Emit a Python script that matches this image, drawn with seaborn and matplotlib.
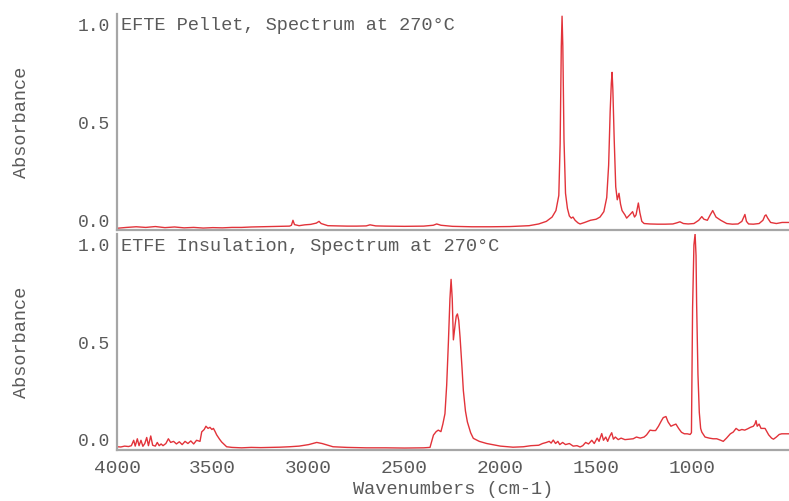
import numpy as np
import pandas as pd
import matplotlib
matplotlib.use("Agg")
import matplotlib.pyplot as plt
import matplotlib.transforms as mtransforms
from matplotlib.ticker import MultipleLocator
import seaborn as sns

# Espectro superior: pellet de EFTE (numero de onda, absorbancia)
pellet_wn = [4000, 3950, 3900, 3850, 3800, 3750, 3700, 3650, 3600, 3550, 3500, 3450,
             3400, 3350, 3300, 3250, 3200, 3150, 3100, 3090, 3082, 3074, 3050, 3020,
             2990, 2960, 2946, 2935, 2900, 2850, 2800, 2750, 2700, 2680, 2650, 2600,
             2500, 2400, 2350, 2332, 2310, 2250, 2150, 2050, 1950, 1850, 1800, 1760,
             1730, 1710, 1695, 1688, 1682, 1678, 1674, 1668, 1660, 1650, 1640, 1630,
             1621, 1610, 1595, 1584, 1560, 1530, 1500, 1480, 1460, 1445, 1435, 1427,
             1421, 1417, 1413, 1406, 1398, 1390, 1381, 1373, 1365, 1350, 1341, 1325,
             1310, 1300, 1292, 1280, 1272, 1262, 1250, 1220, 1180, 1140, 1100, 1080,
             1063, 1045, 1020, 990, 965, 949, 938, 920, 905, 892, 875, 850,
             819, 790, 760, 740, 730, 724, 716, 705, 680, 650, 630, 620,
             614, 605, 590, 560, 530, 494]
pellet_abs = [0.008, 0.012, 0.015, 0.012, 0.016, 0.011, 0.014, 0.010, 0.012, 0.009, 0.011, 0.010,
              0.012, 0.012, 0.014, 0.015, 0.016, 0.017, 0.018, 0.022, 0.045, 0.025, 0.020, 0.024,
              0.026, 0.032, 0.040, 0.030, 0.020, 0.019, 0.018, 0.018, 0.019, 0.024, 0.019, 0.018,
              0.017, 0.018, 0.022, 0.028, 0.022, 0.017, 0.015, 0.015, 0.016, 0.020, 0.028, 0.040,
              0.060, 0.090, 0.160, 0.400, 0.850, 0.990, 0.850, 0.420, 0.170, 0.100, 0.065, 0.055,
              0.060, 0.045, 0.033, 0.028, 0.035, 0.045, 0.050, 0.060, 0.085, 0.150, 0.300, 0.550,
              0.680, 0.730, 0.650, 0.420, 0.200, 0.140, 0.170, 0.120, 0.090, 0.070, 0.055, 0.070,
              0.085, 0.060, 0.070, 0.125, 0.080, 0.040, 0.030, 0.028, 0.027, 0.027, 0.028, 0.033,
              0.038, 0.030, 0.028, 0.030, 0.045, 0.062, 0.050, 0.045, 0.070, 0.090, 0.060, 0.045,
              0.030, 0.027, 0.028, 0.040, 0.060, 0.072, 0.040, 0.028, 0.027, 0.030, 0.045, 0.066,
              0.070, 0.055, 0.035, 0.030, 0.035, 0.035]

# Espectro inferior: aislamiento de ETFE
insul_wn = [4000, 3980, 3960, 3940, 3925, 3913, 3905, 3894, 3885, 3875, 3865, 3855,
            3845, 3836, 3824, 3814, 3800, 3790, 3780, 3770, 3760, 3745, 3732, 3720,
            3705, 3690, 3675, 3660, 3645, 3630, 3615, 3600, 3585, 3567, 3558, 3545,
            3536, 3525, 3515, 3505, 3497, 3488, 3480, 3465, 3454, 3440, 3428, 3400,
            3350, 3300, 3250, 3200, 3150, 3100, 3050, 3000, 2958, 2930, 2900, 2873,
            2800, 2700, 2600, 2500, 2400, 2367, 2349, 2335, 2324, 2310, 2300, 2289,
            2280, 2271, 2263, 2257, 2251, 2245, 2236, 2230, 2224, 2217, 2210, 2200,
            2193, 2182, 2172, 2155, 2141, 2110, 2071, 2000, 1934, 1880, 1840, 1800,
            1780, 1760, 1745, 1735, 1724, 1712, 1700, 1690, 1675, 1660, 1640, 1620,
            1600, 1584, 1570, 1555, 1540, 1523, 1510, 1495, 1485, 1471, 1462, 1450,
            1440, 1430, 1419, 1410, 1400, 1385, 1370, 1350, 1330, 1307, 1290, 1270,
            1250, 1237, 1219, 1205, 1190, 1175, 1160, 1150, 1136, 1125, 1110, 1098,
            1084, 1070, 1055, 1040, 1025, 1010, 1003, 997, 990, 984, 979, 976,
            969, 962, 955, 949, 932, 910, 890, 871, 850, 837, 820, 800,
            785, 770, 755, 740, 725, 710, 695, 680, 672, 666, 660, 650,
            640, 630, 619, 600, 585, 575, 560, 545, 532, 510, 494]
insul_abs = [0.015, 0.014, 0.018, 0.016, 0.020, 0.045, 0.018, 0.052, 0.020, 0.045, 0.017, 0.030,
             0.058, 0.020, 0.065, 0.022, 0.018, 0.035, 0.020, 0.028, 0.020, 0.030, 0.052, 0.035,
             0.040, 0.028, 0.038, 0.025, 0.040, 0.030, 0.042, 0.028, 0.045, 0.040, 0.084, 0.095,
             0.110, 0.100, 0.105, 0.095, 0.100, 0.085, 0.070, 0.050, 0.037, 0.025, 0.015, 0.012,
             0.010, 0.012, 0.011, 0.012, 0.013, 0.015, 0.018, 0.025, 0.035, 0.030, 0.022, 0.015,
             0.012, 0.010, 0.010, 0.009, 0.010, 0.012, 0.069, 0.085, 0.092, 0.085, 0.120, 0.168,
             0.300, 0.500, 0.700, 0.790, 0.700, 0.510, 0.580, 0.620, 0.630, 0.600, 0.520, 0.380,
             0.275, 0.180, 0.130, 0.080, 0.054, 0.040, 0.030, 0.018, 0.013, 0.015, 0.020, 0.022,
             0.030, 0.035, 0.040, 0.032, 0.046, 0.030, 0.040, 0.025, 0.035, 0.025, 0.030, 0.018,
             0.020, 0.014, 0.020, 0.035, 0.028, 0.045, 0.030, 0.055, 0.040, 0.076, 0.045, 0.060,
             0.040, 0.062, 0.080, 0.050, 0.060, 0.048, 0.055, 0.048, 0.050, 0.052, 0.060, 0.055,
             0.060, 0.070, 0.092, 0.090, 0.090, 0.110, 0.135, 0.150, 0.155, 0.130, 0.110, 0.115,
             0.120, 0.100, 0.082, 0.075, 0.075, 0.072, 0.080, 0.660, 0.950, 1.000, 0.900, 0.680,
             0.350, 0.174, 0.100, 0.083, 0.060, 0.055, 0.052, 0.052, 0.045, 0.040, 0.055, 0.075,
             0.083, 0.100, 0.090, 0.095, 0.092, 0.098, 0.105, 0.110, 0.120, 0.136, 0.110, 0.120,
             0.100, 0.100, 0.100, 0.070, 0.055, 0.050, 0.060, 0.072, 0.075, 0.075, 0.075]

titulos = ["EFTE Pellet, Spectrum at 270\u00b0C", "ETFE Insulation, Spectrum at 270\u00b0C"]
x_ticks = [4000, 3500, 3000, 2500, 2000, 1500, 1000]
y_ticks = [0.0, 0.5, 1.0]
y_labels = ["0.0", "0.5", "1.0"]

sns.set_style("white")
plt.rcParams['font.family'] = ['Liberation Mono', 'DejaVu Sans Mono']

gris = '#5a5a5a'
gris_eje = '#a6a6a6'
rojo = '#e2333a'

fig = plt.figure(figsize=(7.89, 5.01), dpi=100)
ax1 = fig.add_axes([0.1483, 0.5409, 0.8517, 0.4311])
ax2 = fig.add_axes([0.1483, 0.1018, 0.8517, 0.4311])

datos = [(ax1, pellet_wn, pellet_abs), (ax2, insul_wn, insul_abs)]

for i, (ax, wn, ab) in enumerate(datos):
    df = pd.DataFrame({'wn': wn, 'abs': ab})
    sns.lineplot(data=df, x='wn', y='abs', ax=ax, color=rojo, linewidth=1.0,
                 estimator=None, sort=True)
    ax.set_xlim(4000, 494)
    ax.set_ylim(0, 1)
    for lado in ['top', 'right']:
        ax.spines[lado].set_visible(False)
    for lado in ['left', 'bottom']:
        ax.spines[lado].set_color(gris_eje)
        ax.spines[lado].set_linewidth(1.6)

    ax.set_xticks(x_ticks)
    ax.xaxis.set_minor_locator(MultipleLocator(100))
    ax.set_yticks(y_ticks)
    ax.set_yticklabels(y_labels)
    ax.yaxis.set_minor_locator(MultipleLocator(0.125))
    ax.tick_params(axis='both', which='major', direction='out', length=3, width=1,
                   color=gris_eje, labelcolor=gris, labelsize=13, pad=2)
    ax.tick_params(axis='both', which='minor', direction='in', length=2, width=1,
                   color=gris_eje)
    ax.tick_params(axis='x', which='major', labelsize=14, pad=4)

    # bajar/subir las etiquetas extremas del eje y
    ticks = ax.yaxis.get_major_ticks()
    desp_abajo = mtransforms.ScaledTranslation(0, 0.10, fig.dpi_scale_trans)
    desp_arriba = mtransforms.ScaledTranslation(0, -0.10, fig.dpi_scale_trans)
    ticks[0].label1.set_transform(ticks[0].label1.get_transform() + desp_abajo)
    ticks[-1].label1.set_transform(ticks[-1].label1.get_transform() + desp_arriba)

    ax.set_ylabel('Absorbance', fontsize=13.4, color=gris)
    ax.yaxis.set_label_coords(-0.129, 0.5)
    ax.set_xlabel('')

    ax.text(0.006, 0.945 if i == 0 else 0.94, titulos[i], transform=ax.transAxes,
            fontsize=13.4, color=gris, ha='left', va='center')

ax1.tick_params(axis='x', which='both', labelbottom=False)
ax2.set_xlabel('Wavenumbers (cm-1)', fontsize=13.4, color=gris, labelpad=3)

plt.savefig('out.png', dpi=100)
